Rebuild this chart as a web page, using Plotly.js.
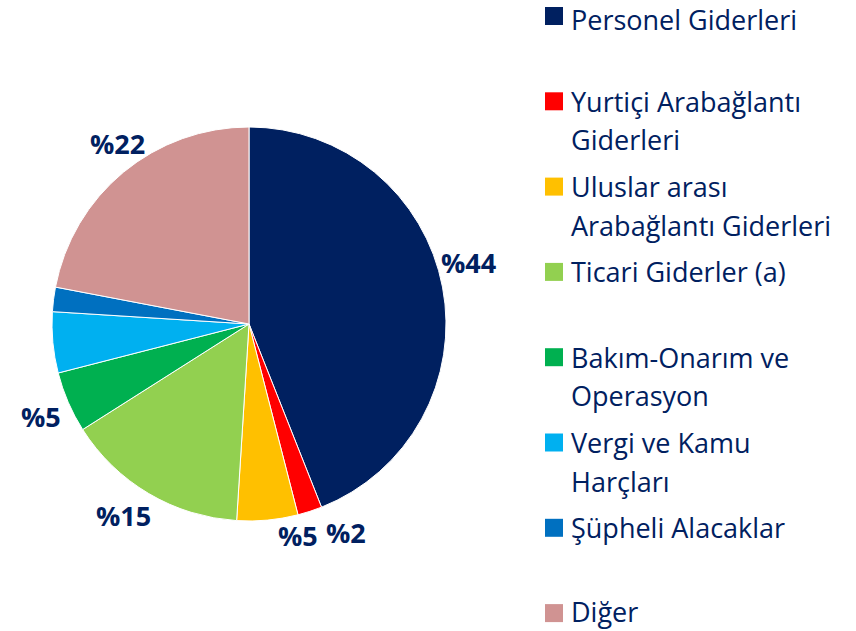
<!DOCTYPE html>
<html>
<head>
<meta charset="utf-8">
<script src="https://cdn.plot.ly/plotly-3.0.1.min.js"></script>
<style>html,body{margin:0;padding:0;background:#fff;} #chart{width:856px;height:631px;}</style>
</head>
<body>
<div id="chart"></div>
<script>
// ---- data ----
var categories = [
  "Personel Giderleri",
  "Yurtiçi Arabağlantı Giderleri",
  "Uluslar arası Arabağlantı Giderleri",
  "Ticari Giderler (a)",
  "Bakım-Onarım ve Operasyon",
  "Vergi ve Kamu Harçları",
  "Şüpheli Alacaklar",
  "Diğer"
];
var legendLines = [
  ["Personel Giderleri"],
  ["Yurtiçi Arabağlantı", "Giderleri"],
  ["Uluslar arası", "Arabağlantı Giderleri"],
  ["Ticari Giderler (a)"],
  ["Bakım-Onarım ve", "Operasyon"],
  ["Vergi ve Kamu", "Harçları"],
  ["Şüpheli Alacaklar"],
  ["Diğer"]
];
var values = [44, 2, 5, 15, 5, 5, 2, 22];
var showValueLabel = [true, true, true, true, true, false, false, true];
var colors = ["#002060", "#FF0000", "#FFC000", "#92D050", "#00B050", "#00B0F0", "#0070C0", "#D09392"];

// ---- layout / style (positions in pixels) ----
var W = 856, H = 631;
var navy = "#002060";
var fontFam = "'Open Sans', Lato, sans-serif";
// value-label centres (px), Excel "best fit" placement
var labelPos = [[468, 262], [346, 532], [298, 535], [123, 515], [41, 416], null, null, [117, 143]];

var trace = {
  type: "pie",
  labels: categories,
  values: values,
  textinfo: "none",
  sort: false,
  direction: "clockwise",
  rotation: 0,
  marker: { colors: colors, line: { color: "#ffffff", width: 1 } },
  domain: { x: [52 / W, 446 / W], y: [110 / H, 504 / H] },
  hoverinfo: "label+value",
  automargin: false,
  showlegend: false
};

var annotations = [];
var shapes = [];

values.forEach(function (v, i) {
  if (!showValueLabel[i] || !labelPos[i]) return;
  annotations.push({
    xref: "paper", yref: "paper",
    x: labelPos[i][0] / W, y: 1 - labelPos[i][1] / H,
    xanchor: "center", yanchor: "middle",
    text: "<b>%" + v + "</b>", showarrow: false, borderpad: 0,
    font: { family: fontFam, size: 27, color: navy }
  });
});

var step = 85.3, firstY = 16, lineGap = 38.5, edge = 19.5;
legendLines.forEach(function (lines, i) {
  var cy = firstY + step * i;
  shapes.push({
    type: "rect", xref: "paper", yref: "paper",
    x0: 545 / W, x1: 563 / W, y0: 1 - (cy + 9) / H, y1: 1 - (cy - 9) / H,
    fillcolor: colors[i], line: { width: 0 }
  });
  lines.forEach(function (ln, j) {
    var ty = Math.min(Math.max(cy + j * lineGap, edge), H - edge);
    annotations.push({
      xref: "paper", yref: "paper",
      x: 570 / W, y: 1 - ty / H,
      xanchor: "left", yanchor: "middle",
      text: ln, showarrow: false, borderpad: 0,
      font: { family: fontFam, size: 27, color: navy }
    });
  });
});

var layout = {
  width: W, height: H,
  margin: { l: 0, r: 0, t: 0, b: 0 },
  paper_bgcolor: "#ffffff",
  plot_bgcolor: "#ffffff",
  showlegend: false,
  annotations: annotations,
  shapes: shapes
};

Plotly.newPlot("chart", [trace], layout, { displayModeBar: false, staticPlot: true });
</script>
</body>
</html>
